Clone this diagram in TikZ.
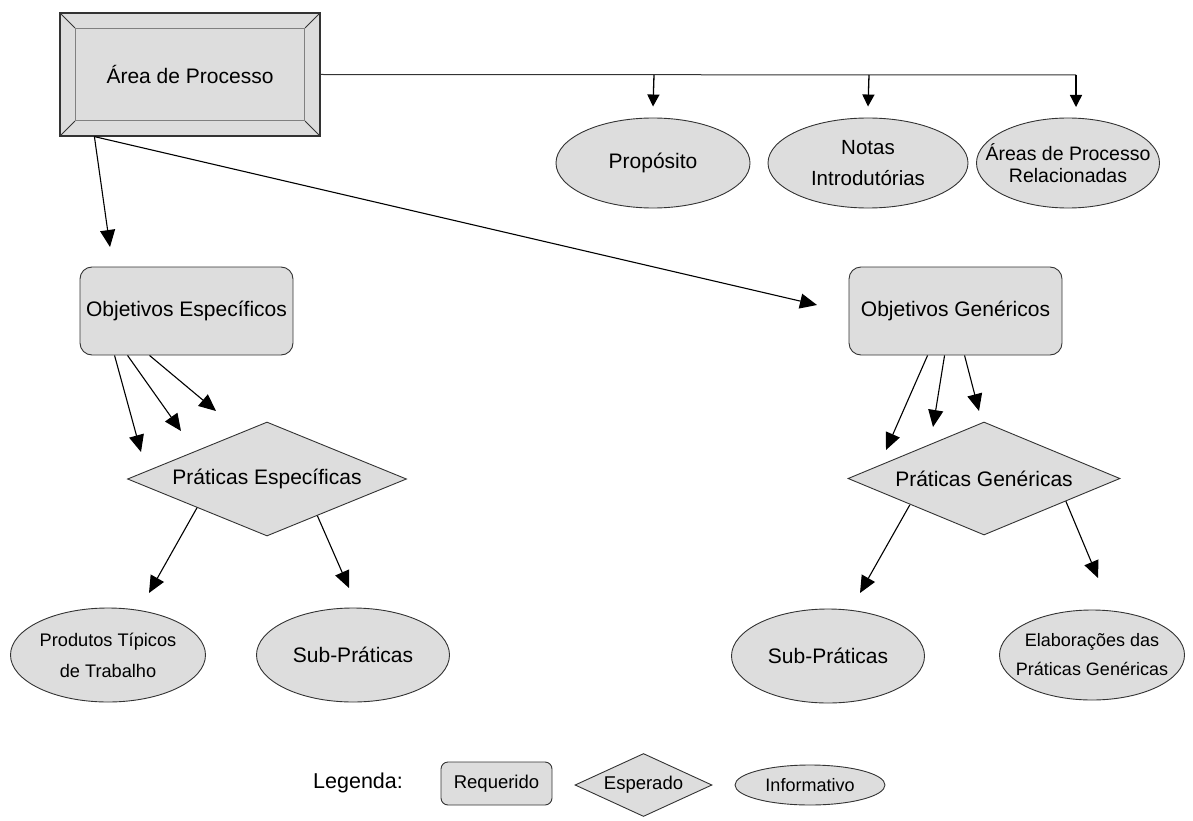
\documentclass[tikz,border=0pt]{standalone}
\usepackage{fontspec}
\setmainfont{Liberation Sans}
\usetikzlibrary{arrows.meta,shapes.geometric,calc}
\definecolor{fillg}{HTML}{DDDDDD}
\definecolor{edge}{HTML}{333333}
\tikzset{
  tip/.style={-{Triangle[length=17pt,width=15pt]},line width=1.1pt},
  tipsmall/.style={-{Triangle[length=12pt,width=12pt]},line width=1.3pt},
  req/.style={draw=edge,fill=fillg,rounded corners=12pt,line width=0.9pt,inner sep=0pt,font=\fontsize{21}{25}\selectfont},
  esp/.style={draw=edge,fill=fillg,diamond,line width=0.9pt,inner sep=0pt,font=\fontsize{21}{25}\selectfont},
  inf/.style={draw=edge,fill=fillg,ellipse,line width=0.9pt,inner sep=0pt,align=center},
}
\begin{document}
\begin{tikzpicture}[x=1pt,y=-1pt]
\useasboundingbox (0,0) rectangle (1193,821);
% Area de Processo (bevelled)
\node[draw=edge,fill=fillg,line width=1.2pt,minimum width=260pt,minimum height=123pt,inner sep=0pt] (area) at (190,74.5) {};
\node[draw=gray,line width=1.2pt,minimum width=229pt,minimum height=92pt,inner sep=0pt,font=\fontsize{21}{25}\selectfont] (areain) at (190,74.5) {Área de Processo};
\draw[edge,line width=1pt] (area.north west) -- (areain.north west)
  (area.north east) -- (areain.north east)
  (area.south west) -- (areain.south west)
  (area.south east) -- (areain.south east);
% top ellipses
\node[inf,minimum width=194pt,minimum height=90pt,font=\fontsize{21}{25}\selectfont] (prop) at (653,163) {Propósito};
\node[inf,minimum width=200pt,minimum height=90pt,font=\fontsize{20.5}{31}\selectfont] (notas) at (868,163) {Notas\\Introdutórias};
\node[inf,inner xsep=-28pt,inner ysep=-4pt,minimum width=183pt,minimum height=90pt,font=\fontsize{19.5}{22}\selectfont] (rel) at (1068,163) {Áreas de Processo\\Relacionadas};
\coordinate (j1) at (654,75);
\coordinate (j2) at (869,75);
\coordinate (j3) at (1076,75);
\coordinate (r3) at (1076,118);
\draw[edge,line width=1pt] (area.east) -- (j3);
\draw[tipsmall] (j1) -- ([yshift=11pt]prop.north);
\draw[tipsmall] (j2) -- ([yshift=11pt]notas.north);
\draw[tipsmall] (j3) -- ([yshift=11pt]r3);
% Objetivos
\node[req,minimum width=213pt,minimum height=88pt] (oe) at (186.5,311) {Objetivos Específicos};
\node[req,minimum width=213pt,minimum height=88pt] (og) at (955.5,311) {Objetivos Genéricos};
\coordinate (astart) at ([xshift=35pt]area.south west);
\coordinate (aoe) at (110,247);
\coordinate (aog) at (817,305);
\draw[tip] (astart) -- (aoe);
\draw[tip] (astart) -- (aog);
% Praticas diamonds
\node[esp,shape aspect=2.45,minimum width=279pt,minimum height=114pt] (pe) at (267,479) {Práticas Específicas};
\node[esp,shape aspect=2.4,minimum width=272pt,minimum height=113pt] (pg) at (984,478.5) {Práticas Genéricas};
% OE -> PE
\coordinate (e1) at (141,452); \coordinate (e2) at (181,431); \coordinate (e3) at (216,411);
\draw[tip] ([xshift=35pt]oe.south west) -- (e1);
\draw[tip] ([xshift=48pt]oe.south west) -- (e2);
\draw[tip] ([xshift=70pt]oe.south west) -- (e3);
% OG -> PG
\coordinate (g1) at (886,450); \coordinate (g2) at (933,427); \coordinate (g3) at (979,411);
\draw[tip] ([xshift=79pt]og.south west) -- (g1);
\draw[tip] ([xshift=96pt]og.south west) -- (g2);
\draw[tip] ([xshift=116pt]og.south west) -- (g3);
% bottom ellipses
\node[inf,inner xsep=-4pt,minimum width=195pt,minimum height=94pt,font=\fontsize{18.2}{31}\selectfont] (ptt) at (108,655) {Produtos Típicos\\de Trabalho};
\node[inf,minimum width=193pt,minimum height=94pt,font=\fontsize{21}{25}\selectfont] (spe) at (353,655) {Sub-Práticas};
\node[inf,minimum width=193pt,minimum height=94pt,font=\fontsize{21}{25}\selectfont] (spg) at (828,656) {Sub-Práticas};
\node[inf,inner xsep=-24pt,inner ysep=-4pt,minimum width=185pt,minimum height=90pt,font=\fontsize{18}{29}\selectfont] (elab) at (1092,655) {Elaborações das\\Práticas Genéricas};
% PE / PG -> ellipses
\coordinate (t1) at (149,593); \coordinate (t2) at (349,588);
\coordinate (t3) at (860,593); \coordinate (t4) at (1098,578);
\draw[tip] (pe.south west) -- (t1);
\draw[tip] ($(pe.south)!0.36!(pe.east)$) -- (t2);
\draw[tip] ([xshift=-6pt,yshift=2pt]pg.south west) -- (t3);
\draw[tip] ($(pg.south)!0.6!(pg.east)$) -- (t4);
% Legend
\node[font=\fontsize{21.5}{25}\selectfont,anchor=west,inner sep=0pt] (leg) at (313,783) {Legenda:};
\node[req,font=\fontsize{18.5}{22}\selectfont,rounded corners=7pt,minimum width=111pt,minimum height=43pt] (lreq) at (496.5,783.5) {Requerido};
\node[esp,font=\fontsize{18.5}{22}\selectfont,shape aspect=2.17,minimum width=137pt,minimum height=63pt] (lesp) at (643.5,785) {Esperado};
\node[inf,font=\fontsize{18}{22}\selectfont,minimum width=150pt,minimum height=40pt] (linf) at (810,785) {Informativo};
\end{tikzpicture}
\end{document}
